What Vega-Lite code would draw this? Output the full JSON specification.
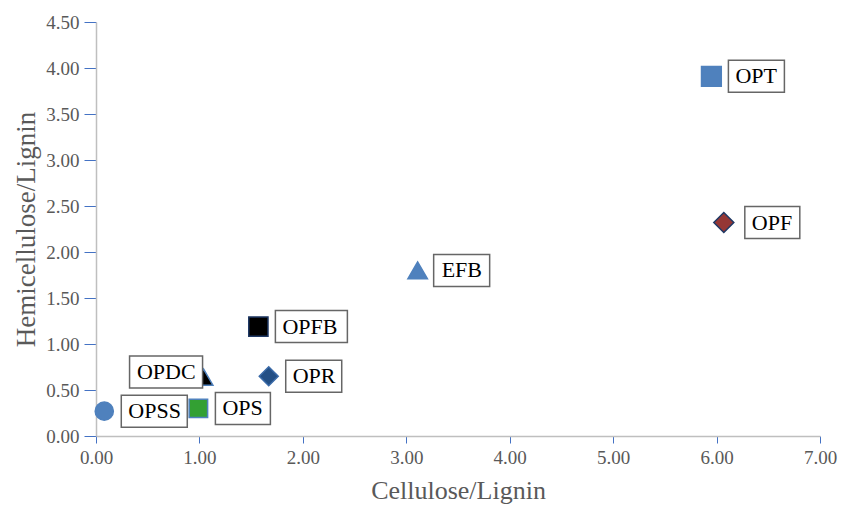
{
  "$schema": "https://vega.github.io/schema/vega-lite/v6.json",
  "width": 724,
  "height": 414,
  "autosize": "none",
  "padding": {"left": 96, "top": 22, "right": 22, "bottom": 70},
  "config": {"view": {"stroke": null}, "font": "Liberation Serif"},
  "data": {
    "values": [
      {"label": "OPSS", "cl": 0.08, "hl": 0.27},
      {"label": "OPS", "cl": 0.99, "hl": 0.30},
      {"label": "OPDC", "cl": 1.04, "hl": 0.64},
      {"label": "OPR", "cl": 1.67, "hl": 0.65},
      {"label": "OPFB", "cl": 1.57, "hl": 1.19},
      {"label": "EFB", "cl": 3.11, "hl": 1.80},
      {"label": "OPT", "cl": 5.95, "hl": 3.91},
      {"label": "OPF", "cl": 6.07, "hl": 2.32}
    ]
  },
  "encoding": {
    "x": {
      "field": "cl",
      "type": "quantitative",
      "scale": {"domain": [0, 7], "nice": false, "zero": false},
      "axis": {
        "title": "Cellulose/Lignin",
        "values": [0, 1, 2, 3, 4, 5, 6, 7],
        "format": ".2f",
        "grid": false,
        "labelFlush": false,
        "domainColor": "#bfbfbf",
        "domainWidth": 1.5,
        "tickColor": "#4472c4",
        "tickSize": 7,
        "labelFont": "Liberation Serif",
        "labelFontSize": 19,
        "labelColor": "#595959",
        "labelPadding": 5,
        "titleFont": "Liberation Serif",
        "titleFontSize": 26,
        "titleFontWeight": "normal",
        "titleColor": "#595959",
        "titlePadding": 10
      }
    },
    "y": {
      "field": "hl",
      "type": "quantitative",
      "scale": {"domain": [0, 4.5], "nice": false, "zero": false},
      "axis": {
        "title": "Hemicellulose/Lignin",
        "values": [0, 0.5, 1, 1.5, 2, 2.5, 3, 3.5, 4, 4.5],
        "format": ".2f",
        "grid": false,
        "labelFlush": false,
        "domainColor": "#bfbfbf",
        "domainWidth": 1.5,
        "tickColor": "#4472c4",
        "tickSize": 12,
        "labelFont": "Liberation Serif",
        "labelFontSize": 19,
        "labelColor": "#595959",
        "labelPadding": 5,
        "titleFont": "Liberation Serif",
        "titleFontSize": 27,
        "titleFontWeight": "normal",
        "titleColor": "#595959",
        "titlePadding": 5
      }
    }
  },
  "resolve": {"scale": {"shape": "independent", "size": "independent", "fill": "independent", "stroke": "independent"}},
  "layer": [
    {
      "mark": {"type": "point", "filled": true, "opacity": 1, "strokeWidth": 1.5},
      "encoding": {
        "shape": {
          "field": "label",
          "type": "nominal",
          "legend": null,
          "scale": {
            "domain": ["OPSS", "OPS", "OPDC", "OPR", "OPFB", "EFB", "OPT", "OPF"],
            "range": ["circle", "square", "triangle-up", "diamond", "square", "triangle-up", "square", "diamond"]
          }
        },
        "size": {
          "field": "label",
          "type": "ordinal",
          "legend": null,
          "scale": {
            "domain": ["OPSS", "OPS", "OPDC", "OPR", "OPFB", "EFB", "OPT", "OPF"],
            "range": [330, 400, 470, 470, 400, 470, 400, 500]
          }
        },
        "fill": {
          "field": "label",
          "type": "nominal",
          "legend": null,
          "scale": {
            "domain": ["OPSS", "OPS", "OPDC", "OPR", "OPFB", "EFB", "OPT", "OPF"],
            "range": ["#4f81bd", "#33a033", "#000000", "#234f85", "#000000", "#4f81bd", "#4f81bd", "#953735"]
          }
        },
        "stroke": {
          "field": "label",
          "type": "nominal",
          "legend": null,
          "scale": {
            "domain": ["OPSS", "OPS", "OPDC", "OPR", "OPFB", "EFB", "OPT", "OPF"],
            "range": ["#4f81bd", "#4f81bd", "#4f81bd", "#3a6aa8", "#1f3864", "#4f81bd", "#4f81bd", "#1f3864"]
          }
        }
      }
    },
    {
      "mark": {"type": "point", "size": 4, "fill": "#ffffff", "stroke": "#666666", "strokeWidth": 1.5, "opacity": 1, "fillOpacity": 1},
      "encoding": {
        "shape": {
          "field": "label",
          "type": "nominal",
          "legend": null,
          "scale": {
            "domain": ["OPSS", "OPS", "OPDC", "OPR", "OPFB", "EFB", "OPT", "OPF"],
            "range": [
              "M17,-16L83,-16L83,16L17,16Z",
              "M17,-16L72,-16L72,16L17,16Z",
              "M-74,-21L-1,-21L-1,11L-74,11Z",
              "M17,-16L73,-16L73,16L17,16Z",
              "M17,-16L89,-16L89,16L17,16Z",
              "M16,-16L72,-16L72,16L16,16Z",
              "M17,-16L73,-16L73,16L17,16Z",
              "M21,-16L76,-16L76,16L21,16Z"
            ]
          }
        }
      }
    },
    {
      "transform": [{"filter": "datum.label != 'OPDC' && datum.label != 'OPF'"}],
      "mark": {"type": "text", "align": "left", "baseline": "middle", "dx": 24, "fontSize": 22, "font": "Liberation Serif", "color": "#000000"},
      "encoding": {"text": {"field": "label"}}
    },
    {
      "transform": [{"filter": "datum.label == 'OPF'"}],
      "mark": {"type": "text", "align": "left", "baseline": "middle", "dx": 28, "fontSize": 22, "font": "Liberation Serif", "color": "#000000"},
      "encoding": {"text": {"field": "label"}}
    },
    {
      "transform": [{"filter": "datum.label == 'OPDC'"}],
      "mark": {"type": "text", "align": "right", "baseline": "middle", "dx": -8, "dy": -5, "fontSize": 22, "font": "Liberation Serif", "color": "#000000"},
      "encoding": {"text": {"field": "label"}}
    }
  ]
}
